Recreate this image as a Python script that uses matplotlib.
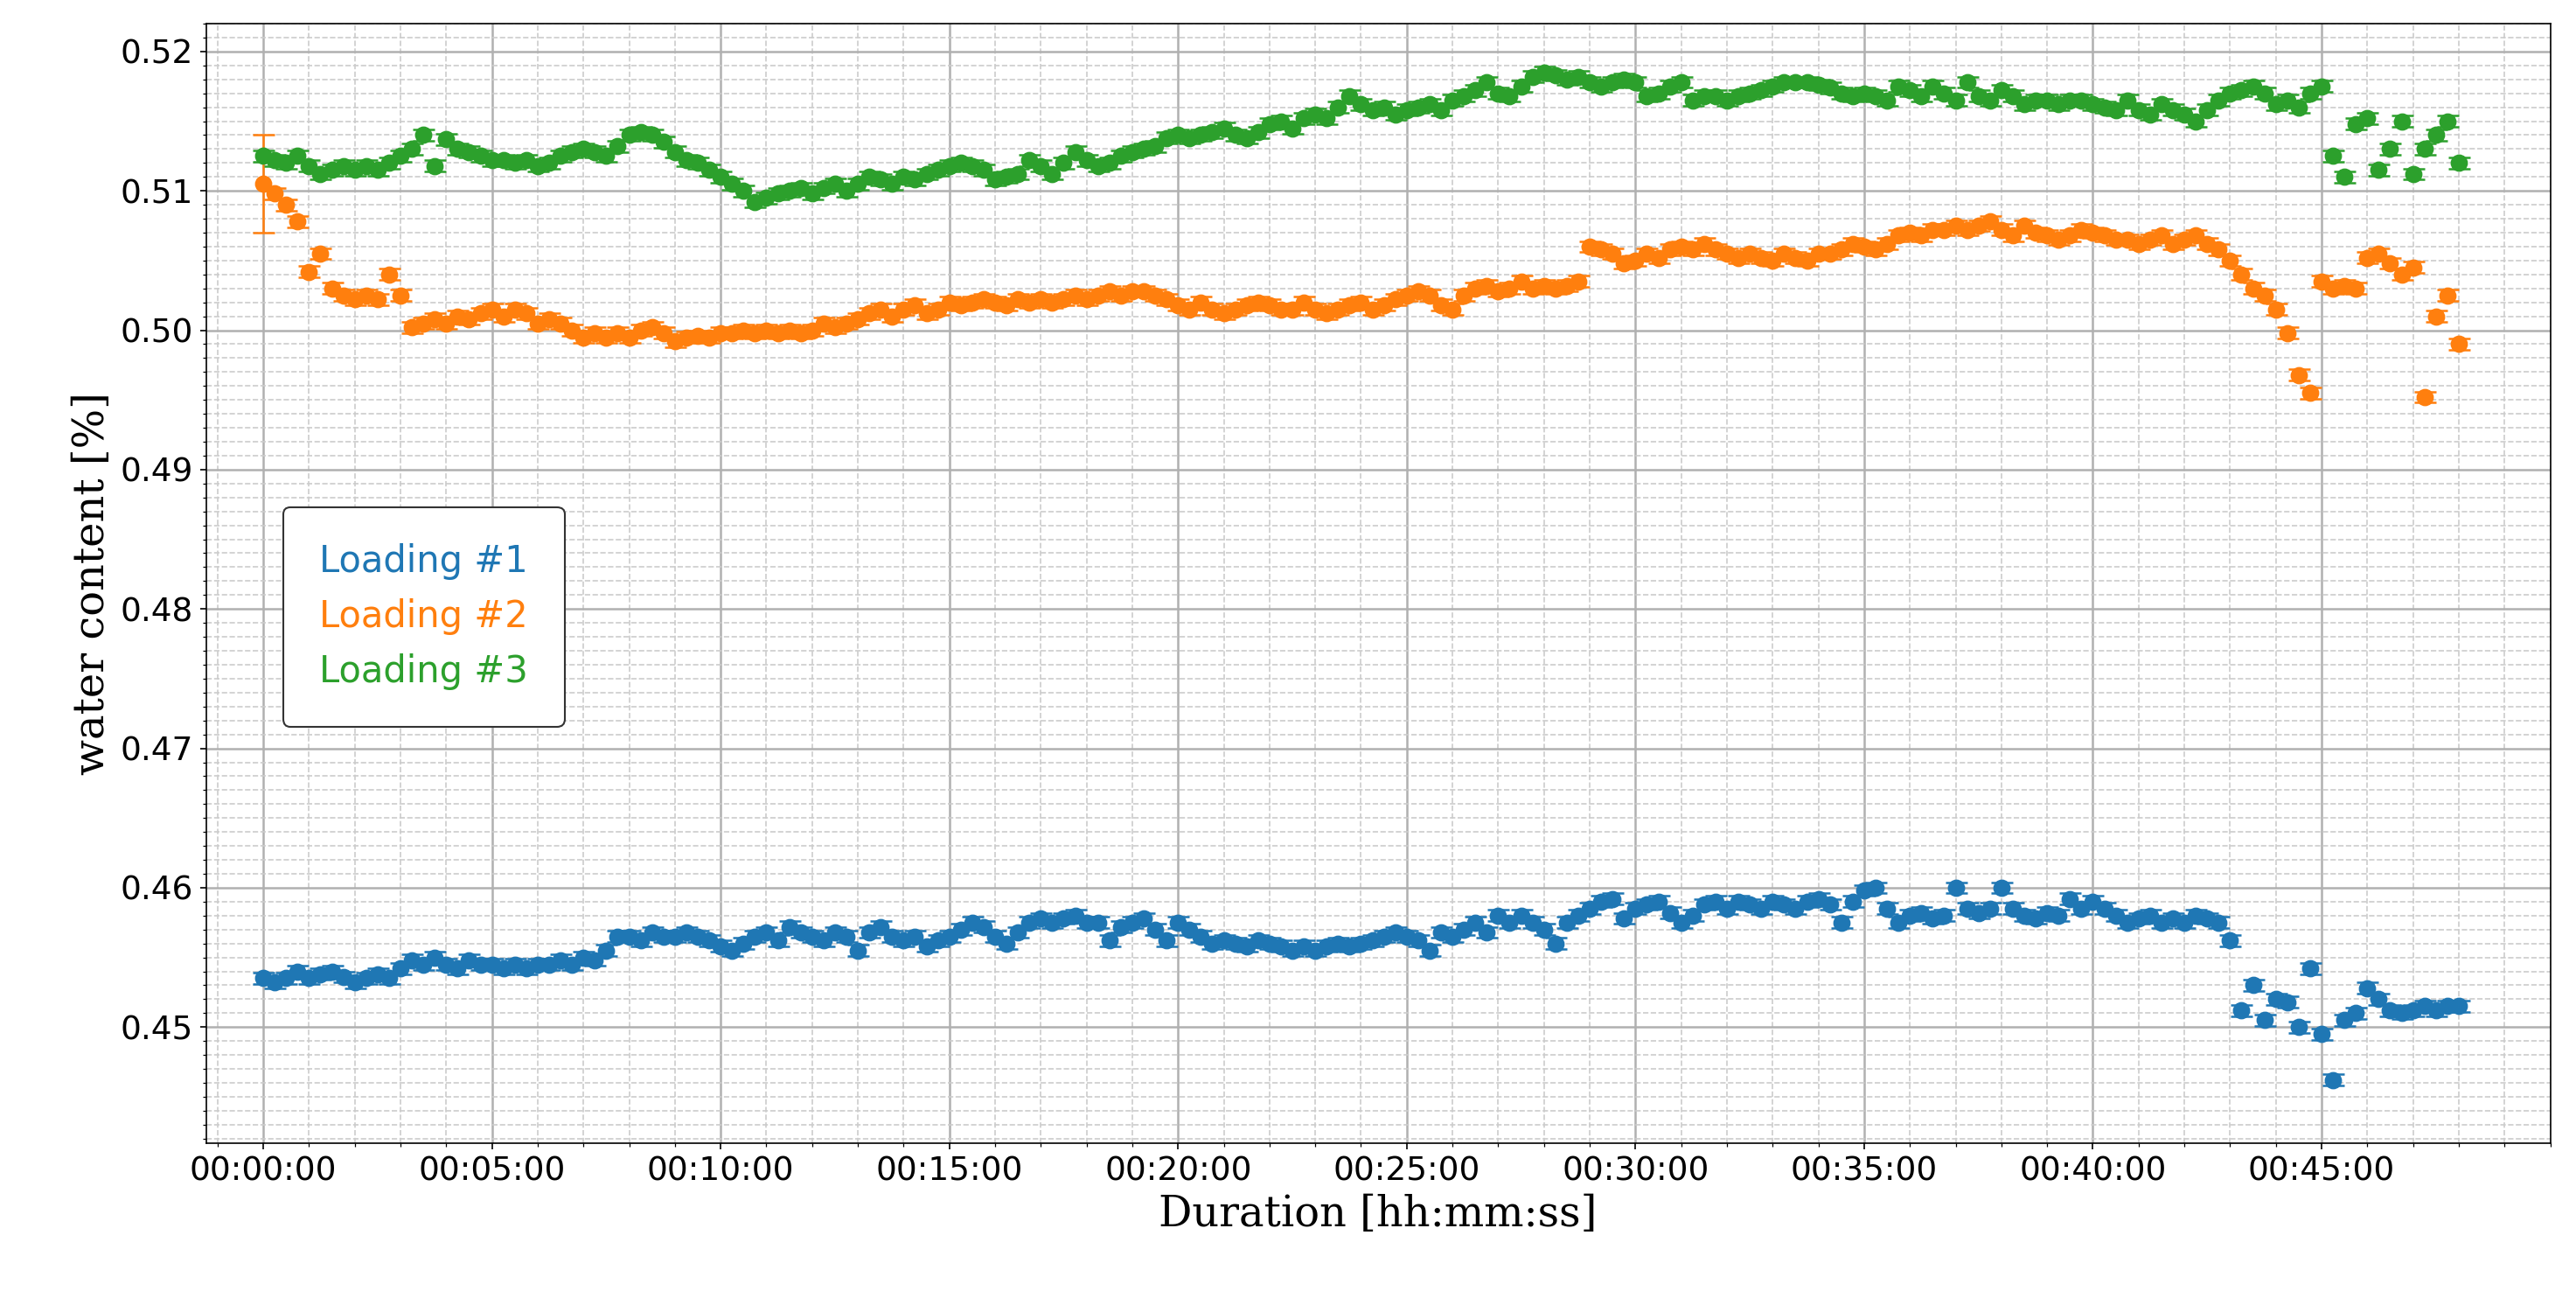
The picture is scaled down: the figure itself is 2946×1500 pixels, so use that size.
import numpy as np
import matplotlib
matplotlib.use("Agg")
import matplotlib.pyplot as plt
from matplotlib.ticker import FuncFormatter, MultipleLocator, FixedLocator
from matplotlib.patches import Patch

loading3 = [
0.5125,0.5122,0.5120,0.5125, 0.5118,0.5112,0.5115,0.5118, 0.5115,0.5118,0.5115,0.5120,
0.5125,0.5130,0.5140,0.5118, 0.5137,0.5130,0.5128,0.5125, 0.5122,0.5122,0.5120,0.5122,
0.5118,0.5120,0.5125,0.5128, 0.5130,0.5128,0.5125,0.5132, 0.5140,0.5142,0.5140,0.5135,
0.5128,0.5122,0.5120,0.5115, 0.5110,0.5105,0.5100,0.5092, 0.5095,0.5098,0.5100,0.5102,
0.5098,0.5102,0.5105,0.5100, 0.5105,0.5110,0.5108,0.5105, 0.5110,0.5108,0.5112,0.5115,
0.5118,0.5120,0.5118,0.5115, 0.5108,0.5110,0.5112,0.5122, 0.5118,0.5112,0.5120,0.5128,
0.5122,0.5118,0.5120,0.5125, 0.5128,0.5130,0.5132,0.5138, 0.5140,0.5138,0.5140,0.5142,
0.5145,0.5140,0.5138,0.5142, 0.5148,0.5150,0.5145,0.5152, 0.5155,0.5152,0.5160,0.5168,
0.5162,0.5158,0.5160,0.5155, 0.5158,0.5160,0.5162,0.5158, 0.5165,0.5168,0.5172,0.5178,
0.5170,0.5168,0.5175,0.5182, 0.5185,0.5183,0.5180,0.5182, 0.5178,0.5175,0.5178,0.5180,
0.5178,0.5168,0.5170,0.5175, 0.5178,0.5165,0.5168,0.5168, 0.5165,0.5168,0.5170,0.5172,
0.5175,0.5178,0.5178,0.5178, 0.5176,0.5174,0.5170,0.5168, 0.5170,0.5168,0.5165,0.5175,
0.5172,0.5168,0.5175,0.5170, 0.5165,0.5178,0.5168,0.5165, 0.5172,0.5168,0.5162,0.5165,
0.5165,0.5162,0.5165,0.5165, 0.5162,0.5160,0.5158,0.5165, 0.5158,0.5155,0.5162,0.5158,
0.5155,0.5150,0.5158,0.5165, 0.5170,0.5172,0.5175,0.5170, 0.5162,0.5165,0.5160,0.5170,
0.5175,0.5125,0.5110,0.5148, 0.5152,0.5115,0.5130,0.5150, 0.5112,0.5130,0.5140,0.5150,
0.5120]

loading2 = [
0.5105,0.5098,0.5090,0.5078, 0.5042,0.5055,0.5030,0.5025, 0.5022,0.5025,0.5022,0.5040,
0.5025,0.5002,0.5005,0.5008, 0.5005,0.5010,0.5008,0.5012, 0.5015,0.5010,0.5015,0.5012,
0.5005,0.5008,0.5005,0.5000, 0.4995,0.4998,0.4995,0.4998, 0.4995,0.5000,0.5002,0.4998,
0.4992,0.4995,0.4996,0.4995, 0.4998,0.4998,0.5000,0.4998, 0.5000,0.4998,0.5000,0.4998,
0.5000,0.5005,0.5002,0.5005, 0.5008,0.5012,0.5015,0.5010, 0.5015,0.5018,0.5012,0.5015,
0.5020,0.5018,0.5020,0.5022, 0.5020,0.5018,0.5022,0.5020, 0.5022,0.5020,0.5022,0.5025,
0.5022,0.5025,0.5028,0.5025, 0.5028,0.5028,0.5025,0.5022, 0.5018,0.5015,0.5020,0.5015,
0.5012,0.5015,0.5018,0.5020, 0.5018,0.5015,0.5015,0.5020, 0.5015,0.5012,0.5015,0.5018,
0.5020,0.5015,0.5018,0.5022, 0.5025,0.5028,0.5025,0.5018, 0.5015,0.5025,0.5030,0.5032,
0.5028,0.5030,0.5035,0.5030, 0.5032,0.5030,0.5032,0.5035, 0.5060,0.5058,0.5055,0.5048,
0.5050,0.5055,0.5052,0.5058, 0.5060,0.5058,0.5062,0.5058, 0.5055,0.5052,0.5055,0.5052,
0.5050,0.5055,0.5052,0.5050, 0.5055,0.5055,0.5058,0.5062, 0.5060,0.5058,0.5062,0.5068,
0.5070,0.5068,0.5072,0.5072, 0.5075,0.5072,0.5075,0.5078, 0.5072,0.5068,0.5075,0.5070,
0.5068,0.5065,0.5068,0.5072, 0.5070,0.5068,0.5065,0.5065, 0.5062,0.5065,0.5068,0.5062,
0.5065,0.5068,0.5062,0.5058, 0.5050,0.5040,0.5030,0.5025, 0.5015,0.4998,0.4968,0.4955,
0.5035,0.5030,0.5032,0.5030, 0.5052,0.5055,0.5048,0.5040, 0.5045,0.4952,0.5010,0.5025,
0.4990]

loading1 = [
0.4535,0.4532,0.4535,0.4540, 0.4535,0.4538,0.4540,0.4536, 0.4532,0.4535,0.4538,0.4535,
0.4542,0.4548,0.4545,0.4550, 0.4545,0.4542,0.4548,0.4545, 0.4545,0.4542,0.4545,0.4542,
0.4545,0.4545,0.4548,0.4545, 0.4550,0.4548,0.4555,0.4565, 0.4565,0.4562,0.4568,0.4565,
0.4565,0.4568,0.4565,0.4562, 0.4558,0.4555,0.4560,0.4565, 0.4568,0.4562,0.4572,0.4568,
0.4565,0.4562,0.4568,0.4565, 0.4555,0.4568,0.4572,0.4565, 0.4562,0.4565,0.4558,0.4562,
0.4565,0.4570,0.4575,0.4572, 0.4565,0.4560,0.4568,0.4575, 0.4578,0.4575,0.4578,0.4580,
0.4575,0.4575,0.4562,0.4572, 0.4575,0.4578,0.4570,0.4562, 0.4575,0.4570,0.4565,0.4560,
0.4562,0.4560,0.4558,0.4562, 0.4560,0.4558,0.4555,0.4558, 0.4555,0.4558,0.4560,0.4558,
0.4560,0.4562,0.4565,0.4568, 0.4565,0.4562,0.4555,0.4568, 0.4565,0.4570,0.4575,0.4568,
0.4580,0.4575,0.4580,0.4575, 0.4570,0.4560,0.4575,0.4580, 0.4585,0.4590,0.4592,0.4578,
0.4585,0.4588,0.4590,0.4582, 0.4575,0.4580,0.4588,0.4590, 0.4585,0.4590,0.4588,0.4585,
0.4590,0.4588,0.4585,0.4590, 0.4592,0.4588,0.4575,0.4590, 0.4598,0.4600,0.4585,0.4575,
0.4580,0.4582,0.4578,0.4580, 0.4600,0.4585,0.4582,0.4585, 0.4600,0.4585,0.4580,0.4578,
0.4582,0.4580,0.4592,0.4585, 0.4590,0.4585,0.4580,0.4575, 0.4578,0.4580,0.4575,0.4578,
0.4575,0.4580,0.4578,0.4575, 0.4562,0.4512,0.4530,0.4505, 0.4520,0.4518,0.4500,0.4542,
0.4495,0.4462,0.4505,0.4510, 0.4528,0.4520,0.4512,0.4510, 0.4512,0.4515,0.4512,0.4515,
0.4515]

err1 = 0.0004
err2 = [0.0035] + [0.0004] * (len(loading2) - 1)
err3 = 0.0004
step_seconds = 15
xtick_seconds = [0, 300, 600, 900, 1200, 1500, 1800, 2100, 2400, 2700]

labels = ["Loading #1", "Loading #2", "Loading #3"]
colors = ["#1f77b4", "#ff7f0e", "#2ca02c"]

fig = plt.figure(figsize=(19.64, 10), dpi=150)
ax = fig.add_axes([0.08, 0.129, 0.91, 0.853])

series = [loading1, loading2, loading3]
errs = [err1, err2, err3]
for y, e, c, lab in zip(series, errs, colors, labels):
    t = np.arange(len(y)) * step_seconds
    ax.errorbar(t, y, yerr=e, fmt='o', color=c, ms=8.5, capsize=6, elinewidth=1.2,
                capthick=1.2)

ax.set_xlim(-75, 3000)
ax.set_ylim(0.4417, 0.522)
ax.xaxis.set_major_locator(FixedLocator(xtick_seconds))
ax.xaxis.set_minor_locator(MultipleLocator(60))
ax.yaxis.set_major_locator(MultipleLocator(0.01))
ax.yaxis.set_minor_locator(MultipleLocator(0.001))
ax.xaxis.set_major_formatter(FuncFormatter(
    lambda v, p: "%02d:%02d:%02d" % (int(v) // 3600, (int(v) % 3600) // 60, int(v) % 60)))
ax.yaxis.set_major_formatter(FuncFormatter(lambda v, p: "%.2f" % v))
ax.grid(which='major', color='#b0b0b0', lw=1.2)
ax.grid(which='minor', color='#cccccc', lw=0.8, ls='--')
ax.tick_params(labelsize=18)
ax.set_xlabel("Duration [hh:mm:ss]", fontsize=23, family='DejaVu Serif')
ax.set_ylabel("water content [%]", fontsize=23, family='DejaVu Serif')

proxies = [Patch(facecolor='none', edgecolor='none') for _ in labels]
leg = ax.legend(proxies, labels, loc='center left', bbox_to_anchor=(0.025, 0.47),
                handlelength=0, handletextpad=0, fontsize=20,
                fancybox=True, framealpha=1, edgecolor='#333333', borderpad=1.0)
for txt, c in zip(leg.get_texts(), colors):
    txt.set_color(c)

fig.savefig("out.png", dpi=150)
